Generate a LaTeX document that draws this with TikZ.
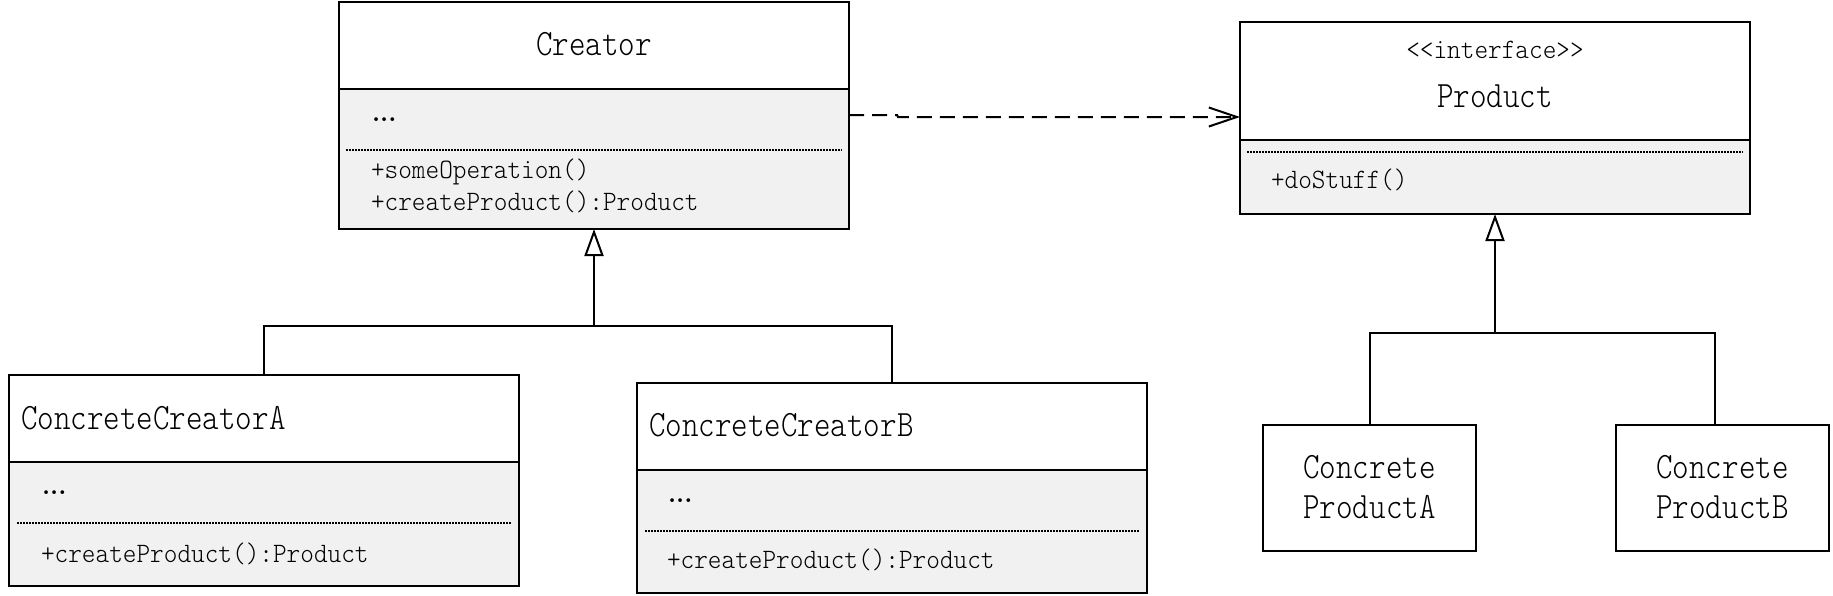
\documentclass[tikz,border=0pt]{standalone}
\usepackage{fontspec}
\usepackage{graphicx}
\setmonofont{Latin Modern Mono Light}
\usetikzlibrary{arrows.meta}
\definecolor{membg}{RGB}{241,241,241}
\newcommand{\titletxt}[1]{\scalebox{1}[1.18]{\fontsize{31.5}{36}\selectfont\ttfamily #1}}
\newcommand{\membertxt}[1]{\scalebox{1}[1.08]{\fontsize{26}{30}\selectfont\ttfamily #1}}
\newcommand{\dotstxt}{{\fontsize{26}{30}\selectfont\rmfamily\bfseries ...}}
\begin{document}
\begin{tikzpicture}[x=1pt,y=-1pt,
  cls/.style={inner sep=0pt, outer sep=0pt, anchor=north west},
  frame/.style={draw, line width=2pt},
  sepline/.style={line width=1.7pt, dash pattern=on 2pt off 1pt},
  conn/.style={line width=2pt},
  txt/.style={inner sep=0pt, outer sep=0pt},
  inherit/.style={conn, -{Triangle[open, length=27pt, width=19pt]}},
  depend/.style={line width=2pt, dash pattern=on 15pt off 8pt, -{Straight Barb[length=28pt, width=19pt]}}
]
\fill[white] (0,0) rectangle (1833,595);
\useasboundingbox (0,0) rectangle (1833,595);

% ---------- Creator ----------
\node[cls, minimum width=510pt, minimum height=227pt] (creator) at (339,2) {};
\fill[membg] (creator.west |- 0,89) rectangle (creator.south east);
\draw[frame] (creator.west |- 0,89) -- (creator.east |- 0,89);
\draw[sepline] ([xshift=7pt]creator.west |- 0,150) -- ([xshift=-7pt]creator.east |- 0,150);
\draw[frame] (creator.north west) rectangle (creator.south east);
\node[txt, anchor=base] (creatorname) at (594,55) {\titletxt{Creator}};
\node[txt, anchor=base west] (creatorattr) at (372,121) {\dotstxt};
\node[txt, anchor=base west] (creatorop1) at (371,178) {\membertxt{+someOperation()}};
\node[txt, anchor=base west] (creatorop2) at (371,210) {\membertxt{+createProduct():Product}};

% ---------- Product ----------
\node[cls, minimum width=510pt, minimum height=192pt] (product) at (1240,22) {};
\fill[membg] (product.west |- 0,140) rectangle (product.south east);
\draw[frame] (product.west |- 0,140) -- (product.east |- 0,140);
\draw[sepline] ([xshift=7pt]product.west |- 0,152) -- ([xshift=-7pt]product.east |- 0,152);
\draw[frame] (product.north west) rectangle (product.south east);
\node[txt, anchor=base] (prodster) at (1495,58) {\membertxt{<<interface>>}};
\node[txt, anchor=base] (prodname) at (1495,107) {\titletxt{Product}};
\node[txt, anchor=base west] (prodop) at (1271,188) {\membertxt{+doStuff()}};

% ---------- ConcreteCreatorA ----------
\node[cls, minimum width=510pt, minimum height=211pt] (cca) at (9,375) {};
\fill[membg] (cca.west |- 0,462) rectangle (cca.south east);
\draw[frame] (cca.west |- 0,462) -- (cca.east |- 0,462);
\draw[sepline] ([xshift=8pt]cca.west |- 0,523) -- ([xshift=-8pt]cca.east |- 0,523);
\draw[frame] (cca.north west) rectangle (cca.south east);
\node[txt, anchor=base west] (ccaname) at (21,429) {\titletxt{ConcreteCreatorA}};
\node[txt, anchor=base west] (ccaattr) at (42,494) {\dotstxt};
\node[txt, anchor=base west] (ccaop) at (41,562) {\membertxt{+createProduct():Product}};

% ---------- ConcreteCreatorB ----------
\node[cls, minimum width=510pt, minimum height=210pt] (ccb) at (637,383) {};
\fill[membg] (ccb.west |- 0,470) rectangle (ccb.south east);
\draw[frame] (ccb.west |- 0,470) -- (ccb.east |- 0,470);
\draw[sepline] ([xshift=8pt]ccb.west |- 0,531) -- ([xshift=-8pt]ccb.east |- 0,531);
\draw[frame] (ccb.north west) rectangle (ccb.south east);
\node[txt, anchor=base west] (ccbname) at (649,436) {\titletxt{ConcreteCreatorB}};
\node[txt, anchor=base west] (ccbattr) at (668,502) {\dotstxt};
\node[txt, anchor=base west] (ccbop) at (667,568) {\membertxt{+createProduct():Product}};

% ---------- ConcreteProductA / B ----------
\node[cls, frame, minimum width=213pt, minimum height=126pt] (cpa) at (1263,425) {};
\node[txt, anchor=base] (cpa1) at (cpa.north |- 0,478) {\titletxt{Concrete}};
\node[txt, anchor=base] (cpa2) at (cpa.north |- 0,518) {\titletxt{ProductA}};
\node[cls, frame, minimum width=213pt, minimum height=126pt] (cpb) at (1616,425) {};
\node[txt, anchor=base] (cpb1) at (cpb.north |- 0,478) {\titletxt{Concrete}};
\node[txt, anchor=base] (cpb2) at (cpb.north |- 0,518) {\titletxt{ProductB}};

% ---------- connectors ----------
\coordinate (jc) at (creator.south |- 0,326);
\draw[conn] (cca.north) |- (jc) -| (ccb.north);
\draw[inherit] (jc) -- (creator.south);

\coordinate (jp) at (product.south |- 0,333);
\coordinate (cpbtop) at ([xshift=-7.5pt]cpb.north);
\draw[conn] (cpa.north) |- (jp) -| (cpbtop);
\draw[inherit] (jp) -- (product.south);

\coordinate (d0) at (creator.east |- 0,115);
\coordinate (d1) at (897,115);
\coordinate (d2) at (898,117);
\coordinate (d3) at (product.west |- 0,117);
\draw[depend] (d0) -- (d1) -- (d2) -- (d3);
\end{tikzpicture}
\end{document}
